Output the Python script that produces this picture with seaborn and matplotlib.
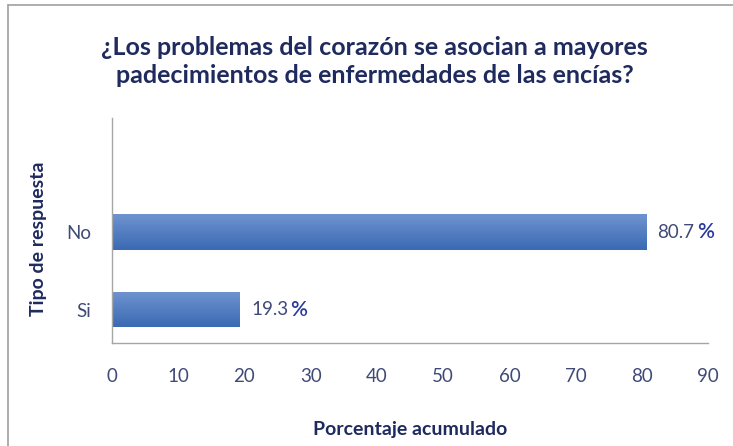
import seaborn as sns
import pandas as pd
import numpy as np
import matplotlib.pyplot as plt
from matplotlib.colors import LinearSegmentedColormap
from matplotlib.lines import Line2D
from matplotlib.transforms import offset_copy

# datos
respuestas = ["No", "Si"]
porcentajes = [80.7, 19.3]
etiquetas = ["80.7", "19.3"]
ticks_x = [0, 10, 20, 30, 40, 50, 60, 70, 80, 90]

df = pd.DataFrame({"respuesta": respuestas, "porcentaje": porcentajes})

sns.set_theme(style="white")
plt.rcParams['font.family'] = ['Lato', 'DejaVu Sans']

navy = "#1F2A5E"
gris_azul = "#3F4A78"

fig = plt.figure(figsize=(7.33, 4.46), dpi=100)
ax = fig.add_axes([0.1528, 0.231, 0.966 - 0.1528, 0.735 - 0.231])

sns.barplot(data=df, x="porcentaje", y="respuesta", order=respuestas,
            orient="h", color="#4A78C0", width=0.46, ax=ax, saturation=1)

# degradado en las barras
cmap = LinearSegmentedColormap.from_list("barra", ["#6F93CF", "#3A6AB4"])
grad = np.linspace(0, 1, 64).reshape(-1, 1)
for p in ax.patches:
    x0, y0 = p.get_x(), p.get_y()
    w, h = p.get_width(), p.get_height()
    im = ax.imshow(grad, cmap=cmap, aspect="auto",
                   extent=[x0, x0 + w, y0 + h, y0], zorder=p.get_zorder() + 0.1)
    im.set_clip_path(p)

ax.set_xlim(0, 90)
ax.set_ylim(1.43, -1.47)
ax.set_xticks(ticks_x)
ax.tick_params(axis="x", length=0, pad=18, labelsize=13.5, labelcolor=gris_azul)
ax.tick_params(axis="y", length=0, pad=15, labelsize=13.5, labelcolor=gris_azul)

for s in ["top", "right"]:
    ax.spines[s].set_visible(False)
for s in ["left", "bottom"]:
    ax.spines[s].set_color("#A6A6A6")
    ax.spines[s].set_linewidth(1.0)

ax.set_xlabel("Porcentaje acumulado", fontsize=14, fontweight="bold", color=navy, labelpad=26)
ax.set_ylabel("Tipo de respuesta", fontsize=14, fontweight="bold", color=navy)
ax.yaxis.set_label_coords(-0.109, 0.462)

fig.suptitle("¿Los problemas del corazón se asocian a mayores\npadecimientos de enfermedades de las encías?",
             x=0.511, y=0.92, fontsize=18, fontweight="bold", color=navy, linespacing=1.28)

# etiquetas de valor: número y signo % en otro color
fig.canvas.draw()
renderer = fig.canvas.get_renderer()
for i, (v, lab) in enumerate(zip(porcentajes, etiquetas)):
    t = ax.annotate(lab, xy=(v, i), xytext=(8, 0), textcoords="offset points",
                    va="center", ha="left", fontsize=13.5, color=gris_azul)
    bb = t.get_window_extent(renderer)
    trans = offset_copy(ax.transData, fig=fig, x=(bb.x1 - ax.transData.transform((v, i))[0]) * 72 / fig.dpi + 1.5,
                        y=0, units="points")
    ax.text(v, i, "%", transform=trans, va="center", ha="left", fontsize=15,
            color="#2A3A9C", fontweight="semibold")

# borde del gráfico
fig.add_artist(Line2D([8 / 733, 1], [1 - 5 / 446, 1 - 5 / 446], color="#A0A0A0", lw=1.2))
fig.add_artist(Line2D([8 / 733, 8 / 733], [0, 1 - 5 / 446], color="#A0A0A0", lw=1.2))

fig.savefig("out.png", dpi=100, facecolor="white")
